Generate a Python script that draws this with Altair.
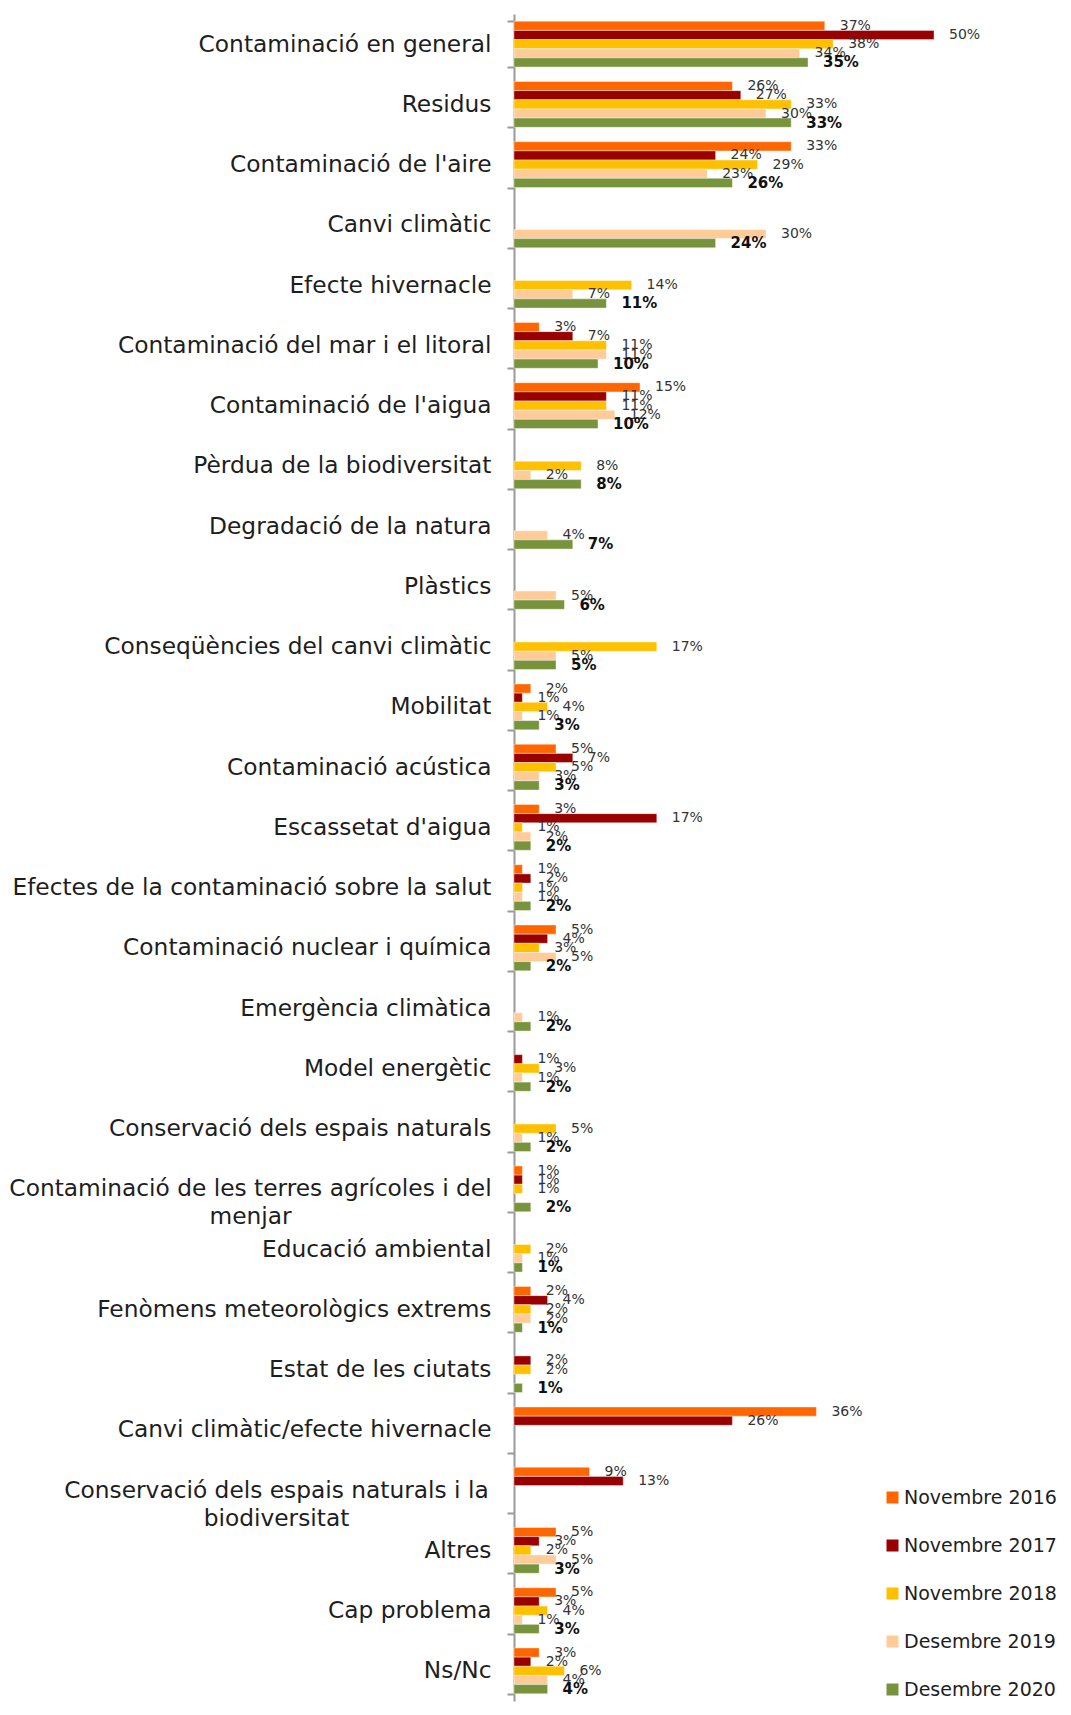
import altair as alt
import pandas as pd

categories = [
    "Contaminació en general",
    "Residus",
    "Contaminació de l'aire",
    "Canvi climàtic",
    "Efecte hivernacle",
    "Contaminació del mar i el litoral",
    "Contaminació de l'aigua",
    "Pèrdua de la biodiversitat",
    "Degradació de la natura",
    "Plàstics",
    "Conseqüències del canvi climàtic",
    "Mobilitat",
    "Contaminació acústica",
    "Escassetat d'aigua",
    "Efectes de la contaminació sobre la salut",
    "Contaminació nuclear i química",
    "Emergència climàtica",
    "Model energètic",
    "Conservació dels espais naturals",
    "Contaminació de les terres agrícoles i del menjar",
    "Educació ambiental",
    "Fenòmens meteorològics extrems",
    "Estat de les ciutats",
    "Canvi climàtic/efecte hivernacle",
    "Conservació dels espais naturals i la biodiversitat",
    "Altres",
    "Cap problema",
    "Ns/Nc",
]

series_names = ["Novembre 2016", "Novembre 2017", "Novembre 2018", "Desembre 2019", "Desembre 2020"]
series_colors = ["#FF6600", "#990000", "#FFC000", "#FFCC99", "#77933C"]

nov2016 = [37, 26, 33, None, None, 3, 15, None, None, None, None, 2, 5, 3, 1, 5, None, None, None, 1, None, 2, None, 36, 9, 5, 5, 3]
nov2017 = [50, 27, 24, None, None, 7, 11, None, None, None, None, 1, 7, 17, 2, 4, None, 1, None, 1, None, 4, 2, 26, 13, 3, 3, 2]
nov2018 = [38, 33, 29, None, 14, 11, 11, 8, None, None, 17, 4, 5, 1, 1, 3, None, 3, 5, 1, 2, 2, 2, None, None, 2, 4, 6]
des2019 = [34, 30, 23, 30, 7, 11, 12, 2, 4, 5, 5, 1, 3, 2, 1, 5, 1, 1, 1, None, 1, 2, None, None, None, 5, 1, 4]
des2020 = [35, 33, 26, 24, 11, 10, 10, 8, 7, 6, 5, 3, 3, 2, 2, 2, 2, 2, 2, 2, 1, 1, 1, None, None, 3, 3, 4]

series_values = [nov2016, nov2017, nov2018, des2019, des2020]

rows = []
for name, vals in zip(series_names, series_values):
    for cat, v in zip(categories, vals):
        if v is not None:
            rows.append({"cat": cat, "series": name, "value": v, "label": f"{v}%"})
df = pd.DataFrame(rows)

FONT = "DejaVu Sans"

wrap1 = "Contaminació de les terres agrícoles i del menjar"
wrap2 = "Conservació dels espais naturals i la biodiversitat"
label_expr = (
    f"datum.value == '{wrap1}' ? ['Contaminació de les terres agrícoles i del', 'menjar'] : "
    f"datum.value == '{wrap2}' ? ['Conservació dels espais naturals i la', 'biodiversitat'] : datum.label"
)

y_enc = alt.Y(
    "cat:N",
    sort=categories,
    scale=alt.Scale(domain=categories, paddingInner=0.24, paddingOuter=0.12),
    axis=alt.Axis(
        title=None,
        labelFont=FONT,
        labelFontSize=23.3,
        labelColor="#1e1e1e",
        labelLimit=0,
        labelLineHeight=28,
        labelExpr=label_expr,
        labelAlign={
            "condition": {"test": f"datum.value == '{wrap1}' || datum.value == '{wrap2}'", "value": "center"},
            "value": "right",
        },
        labelPadding={
            "condition": [
                {"test": f"datum.value == '{wrap1}'", "value": 257},
                {"test": f"datum.value == '{wrap2}'", "value": 231},
            ],
            "value": 16,
        },
        tickBand="extent",
        tickExtra=True,
        tickSize=7,
        tickWidth=2,
        tickColor="#9a9a9a",
        domainColor="#9a9a9a",
        domainWidth=2,
    ),
)
yoff = alt.YOffset("series:N", sort=series_names, scale=alt.Scale(domain=series_names, paddingInner=0, paddingOuter=0))
x_enc = alt.X("value:Q", scale=alt.Scale(domain=[0, 60]), axis=None)

base = alt.Chart(df)

bars = base.mark_bar(stroke="white", strokeWidth=0.4).encode(
    x=x_enc,
    y=y_enc,
    yOffset=yoff,
    color=alt.Color(
        "series:N",
        sort=series_names,
        scale=alt.Scale(domain=series_names, range=series_colors),
        legend=alt.Legend(
            title=None,
            orient="none",
            legendX=369,
            legendY=1474,
            padding=0,
            symbolType="square",
            symbolSize=144,
            symbolStrokeWidth=0,
            labelFont=FONT,
            labelFontSize=19,
            labelColor="#1e1e1e",
            labelOffset=2,
            rowPadding=28,
            labelLimit=0,
        ),
    ),
)

labels_reg = base.transform_filter(alt.datum.series != "Desembre 2020").mark_text(
    align="left", baseline="middle", dx=15, font=FONT, fontSize=14, color="#333333"
).encode(x=x_enc, y=y_enc, yOffset=yoff, text="label:N")

labels_bold = base.transform_filter(alt.datum.series == "Desembre 2020").mark_text(
    align="left", baseline="middle", dx=15, font=FONT, fontSize=15, fontWeight="bold", color="#111111"
).encode(x=x_enc, y=y_enc, yOffset=yoff, text="label:N")

chart = (
    alt.layer(bars, labels_reg, labels_bold)
    .properties(
        width=504,
        height=1687,
        autosize=alt.AutoSizeParams(type="none"),
        padding={"left": 506, "top": 6, "right": 45, "bottom": 2},
    )
    .configure_view(stroke=None)
)

chart.save("out.html", embed_options={"renderer": "svg", "actions": False})
